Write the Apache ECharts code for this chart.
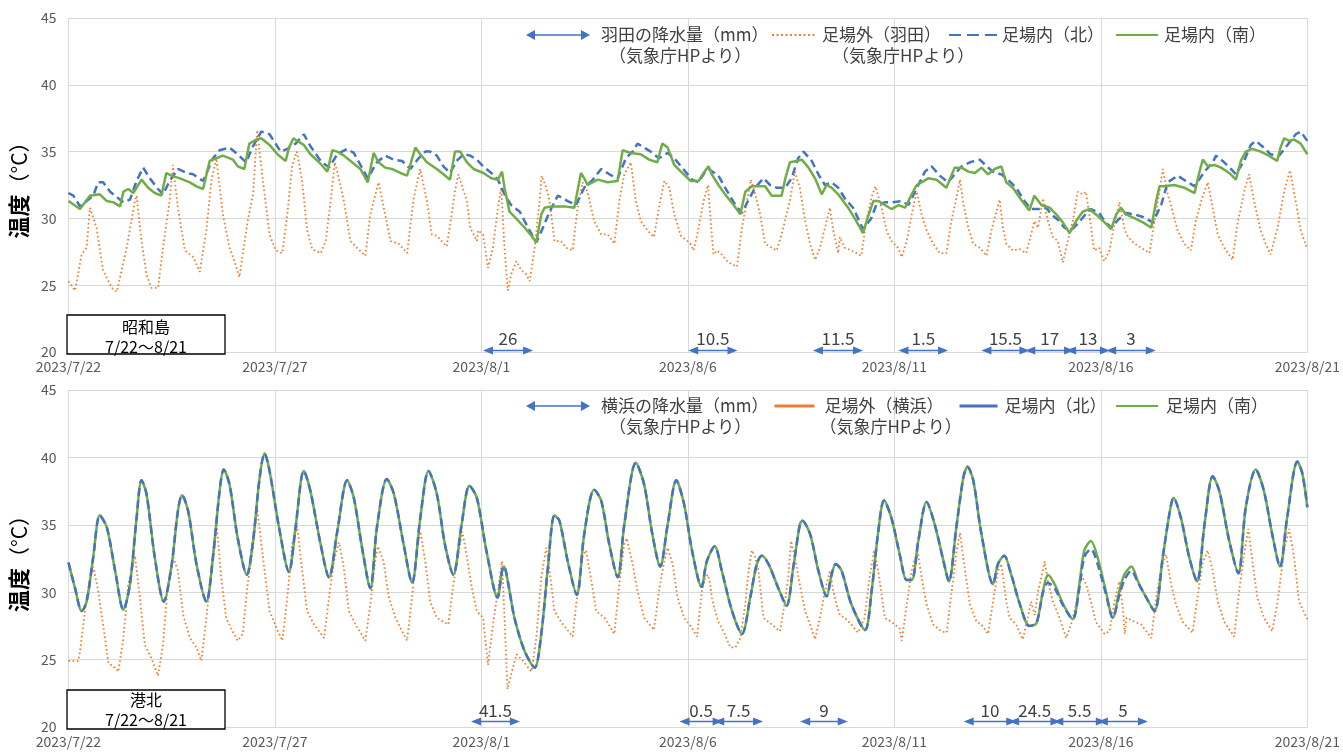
<!DOCTYPE html>
<html>
<head>
<meta charset="utf-8">
<script src="https://cdn.jsdelivr.net/npm/echarts@6/dist/echarts.min.js"></script>
<style>
html, body { margin: 0; padding: 0; background: #fff; }
#main { width: 1343px; height: 753px; }
</style>
</head>
<body>
<div id="main"></div>
<script>
// x = days since 2023/7/22 0:00
var dateLabels = ['2023/7/22', '2023/7/27', '2023/8/1', '2023/8/6', '2023/8/11', '2023/8/16', '2023/8/21'];

// [start day, end day, mm]
var hanedaRain = [[10.16, 11.13, '26'], [15.13, 16.08, '10.5'], [18.15, 19.12, '11.5'], [20.22, 21.18, '1.5'],
  [22.23, 23.15, '15.5'], [23.29, 24.23, '17'], [24.28, 25.1, '13'], [25.25, 26.21, '3']];
var yokohamaRain = [[9.87, 10.81, '41.5'], [14.92, 15.72, '0.5'], [15.76, 16.7, '7.5'], [17.84, 18.75, '9'],
  [21.8, 22.83, '10'], [22.9, 23.9, '24.5'], [23.97, 25.0, '5.5'], [25.05, 26.02, '5']];

// 昭和島 (top)
var hanedaOut = [[0,25.3],[0.16,24.6],[0.32,27.3],[0.44,27.8],[0.52,30.8],[0.56,30.9],[0.68,29.3],[0.84,26.1],[1.05,24.8],[1.17,24.5],[1.41,27.8],[1.61,31.3],[1.65,31.7],[1.77,28.3],[1.89,25.8],[2.01,24.8],[2.17,24.8],[2.29,27.8],[2.45,31.3],[2.53,34.0],[2.65,30.8],[2.82,27.6],[3.02,27.1],[3.18,26.0],[3.34,29.1],[3.46,32.8],[3.58,34.5],[3.74,30.3],[3.9,27.8],[4.02,26.8],[4.14,25.6],[4.34,29.8],[4.47,31.8],[4.57,36.6],[4.71,32.8],[4.87,28.8],[5.02,27.6],[5.18,27.4],[5.3,30.3],[5.42,34.0],[5.53,35.0],[5.66,32.8],[5.78,29.1],[5.9,27.7],[6.11,27.4],[6.23,28.3],[6.35,31.3],[6.45,34.2],[6.51,33.5],[6.67,31.3],[6.83,28.3],[6.99,27.8],[7.19,27.2],[7.31,30.3],[7.51,32.7],[7.67,30.3],[7.8,28.3],[8.0,28.1],[8.2,27.4],[8.36,31.5],[8.52,33.7],[8.68,31.3],[8.8,28.8],[8.92,28.7],[9.16,27.9],[9.28,30.3],[9.36,32.0],[9.44,33.3],[9.65,31.3],[9.73,29.3],[9.89,28.3],[9.92,29.1],[10.04,28.8],[10.16,26.3],[10.28,27.8],[10.4,30.8],[10.48,32.3],[10.56,27.8],[10.64,24.6],[10.72,25.8],[10.85,26.8],[10.97,26.1],[11.09,25.8],[11.17,25.3],[11.29,27.8],[11.41,31.3],[11.46,33.2],[11.57,32.3],[11.65,31.3],[11.77,28.3],[11.93,28.3],[12.05,27.8],[12.21,27.6],[12.33,30.8],[12.45,32.7],[12.57,32.0],[12.73,29.8],[12.9,28.8],[13.06,28.8],[13.22,28.1],[13.34,31.3],[13.46,33.3],[13.62,34.2],[13.74,31.3],[13.86,29.8],[14.02,29.1],[14.18,28.6],[14.3,30.8],[14.43,32.8],[14.55,32.3],[14.67,30.3],[14.83,28.7],[14.99,28.3],[15.06,28.1],[15.14,27.6],[15.26,29.3],[15.38,31.3],[15.49,32.5],[15.54,30.3],[15.62,27.3],[15.7,27.6],[15.82,27.3],[15.98,26.7],[16.19,26.4],[16.31,29.3],[16.43,31.3],[16.53,32.9],[16.63,31.8],[16.75,30.3],[16.87,28.1],[17.03,27.8],[17.15,27.6],[17.27,28.8],[17.39,30.3],[17.47,31.3],[17.59,33.5],[17.71,32.3],[17.84,29.8],[17.96,28.1],[18.08,26.9],[18.2,27.8],[18.32,29.3],[18.44,30.8],[18.52,29.1],[18.64,27.4],[18.68,28.6],[18.8,27.8],[18.96,27.6],[19.08,27.4],[19.2,27.2],[19.32,29.8],[19.44,31.5],[19.54,32.4],[19.69,30.8],[19.81,29.1],[19.93,28.3],[20.09,27.8],[20.18,27.1],[20.3,28.3],[20.42,30.3],[20.54,32.0],[20.66,30.3],[20.78,29.1],[20.94,28.1],[21.1,27.4],[21.26,27.4],[21.38,29.8],[21.5,31.5],[21.59,32.9],[21.66,31.3],[21.79,29.3],[21.91,28.1],[22.07,27.8],[22.23,27.2],[22.35,29.1],[22.47,30.5],[22.55,31.4],[22.63,29.3],[22.71,28.1],[22.87,27.6],[23.03,27.7],[23.19,27.4],[23.31,28.8],[23.39,29.8],[23.48,29.3],[23.6,31.5],[23.72,29.8],[23.84,28.6],[23.96,28.3],[24.08,26.7],[24.2,28.3],[24.32,29.8],[24.44,32.0],[24.56,31.8],[24.64,32.0],[24.72,30.3],[24.84,27.6],[24.96,27.8],[25.08,26.8],[25.21,27.6],[25.33,29.6],[25.45,31.2],[25.58,29.1],[25.66,28.6],[25.82,28.1],[25.98,27.8],[26.18,27.4],[26.3,29.8],[26.42,32.0],[26.5,33.7],[26.62,31.8],[26.74,30.5],[26.86,29.1],[27.02,28.1],[27.18,27.6],[27.3,29.8],[27.43,31.3],[27.59,32.7],[27.71,30.8],[27.83,28.8],[27.99,27.8],[28.19,26.9],[28.31,29.6],[28.47,32.0],[28.59,33.3],[28.71,31.3],[28.87,29.1],[28.99,28.1],[29.11,27.3],[29.28,29.3],[29.44,32.0],[29.58,33.6],[29.72,31.3],[29.84,29.1],[30,27.7]];

var hanedaNorth = [[0,31.9],[0.12,31.7],[0.28,30.9],[0.44,31.3],[0.6,31.7],[0.72,32.7],[0.84,32.7],[1.01,32.0],[1.21,31.5],[1.33,31.2],[1.49,31.4],[1.65,32.8],[1.81,33.8],[1.97,33.0],[2.17,32.2],[2.29,31.8],[2.45,32.8],[2.65,33.7],[2.86,33.4],[3.02,33.3],[3.26,32.8],[3.5,34.5],[3.66,35.1],[3.9,35.3],[4.1,34.8],[4.3,34.2],[4.47,35.4],[4.67,36.5],[4.87,36.3],[5.14,35.0],[5.3,35.2],[5.5,35.6],[5.7,36.3],[5.86,35.4],[6.11,34.3],[6.31,33.8],[6.51,34.8],[6.75,35.2],[6.91,34.9],[7.07,34.0],[7.25,33.0],[7.47,34.2],[7.67,34.7],[7.88,34.4],[8.08,34.3],[8.28,33.7],[8.48,34.5],[8.64,35.0],[8.76,35.0],[8.92,34.7],[9.08,33.9],[9.24,33.4],[9.4,34.3],[9.57,34.8],[9.73,34.7],[9.89,34.4],[10.04,33.9],[10.24,33.4],[10.4,32.9],[10.56,31.8],[10.72,31.0],[10.93,30.5],[11.13,29.3],[11.33,28.2],[11.49,29.3],[11.65,30.5],[11.85,31.7],[12.09,31.3],[12.29,31.0],[12.49,32.3],[12.7,32.9],[12.9,33.7],[13.1,33.3],[13.3,33.0],[13.5,34.5],[13.66,35.0],[13.78,35.6],[13.94,35.3],[14.1,35.0],[14.3,34.5],[14.51,34.9],[14.67,34.5],[14.83,33.9],[14.94,33.5],[15.1,32.9],[15.26,32.7],[15.42,33.5],[15.5,33.7],[15.74,33.2],[15.9,32.3],[16.15,31.0],[16.31,30.4],[16.47,31.4],[16.63,32.3],[16.83,33.0],[16.99,32.5],[17.15,32.3],[17.36,32.3],[17.51,33.0],[17.67,34.5],[17.8,35.0],[18.0,34.3],[18.16,33.3],[18.32,32.5],[18.48,32.7],[18.64,32.3],[18.8,31.5],[19.0,30.8],[19.24,29.2],[19.44,30.0],[19.56,31.0],[19.77,31.2],[19.93,31.2],[20.18,31.3],[20.34,31.0],[20.58,32.5],[20.74,33.5],[20.9,33.9],[21.1,33.2],[21.3,32.7],[21.46,33.3],[21.63,33.9],[21.83,34.2],[22.07,34.4],[22.27,33.8],[22.43,33.4],[22.59,33.3],[22.75,32.9],[22.95,32.3],[23.15,31.3],[23.31,30.7],[23.51,30.7],[23.68,30.8],[23.8,30.3],[23.96,29.9],[24.12,29.3],[24.28,29.1],[24.44,29.6],[24.6,30.2],[24.76,30.7],[24.96,30.4],[25.09,29.8],[25.25,29.3],[25.42,29.9],[25.62,30.4],[25.82,30.3],[26.02,30.1],[26.26,29.7],[26.46,31.0],[26.62,32.7],[26.86,33.2],[27.06,32.8],[27.27,32.4],[27.51,33.5],[27.71,34.2],[27.79,34.7],[27.95,34.3],[28.15,33.7],[28.27,33.3],[28.47,34.3],[28.63,35.5],[28.75,35.8],[28.95,35.3],[29.11,34.8],[29.32,34.7],[29.52,35.5],[29.72,36.3],[29.84,36.5],[30,35.8]];

var hanedaSouth = [[0,31.3],[0.28,30.7],[0.52,31.7],[0.76,31.8],[0.93,31.3],[1.09,31.2],[1.25,30.9],[1.33,32.0],[1.45,32.2],[1.57,31.9],[1.77,32.9],[1.93,32.3],[2.09,31.9],[2.25,31.7],[2.37,33.4],[2.49,33.2],[2.7,33.0],[2.94,32.7],[3.1,32.4],[3.26,32.2],[3.42,34.3],[3.58,34.5],[3.74,34.7],[3.98,34.4],[4.1,33.9],[4.26,33.7],[4.38,35.6],[4.55,35.9],[4.67,36.0],[4.87,35.5],[5.06,34.8],[5.26,34.3],[5.34,35.3],[5.45,36.0],[5.54,35.8],[5.7,35.5],[5.86,34.8],[6.07,34.2],[6.27,33.5],[6.39,35.1],[6.51,35.0],[6.67,34.7],[6.87,34.2],[7.07,33.7],[7.25,32.7],[7.39,34.9],[7.51,34.2],[7.67,33.8],[7.83,33.7],[8.04,33.4],[8.2,33.2],[8.4,35.3],[8.52,34.8],[8.68,34.2],[8.92,33.7],[9.08,33.3],[9.24,32.9],[9.36,35.0],[9.49,35.0],[9.65,34.2],[9.81,33.7],[10.05,33.4],[10.24,33.0],[10.4,32.9],[10.5,33.5],[10.56,32.3],[10.68,30.5],[10.84,30.0],[11.05,29.3],[11.21,28.7],[11.33,28.2],[11.45,30.3],[11.53,30.8],[11.69,30.9],[12.01,30.9],[12.25,30.8],[12.41,33.4],[12.49,33.0],[12.57,32.5],[12.82,32.9],[13.06,32.7],[13.3,32.8],[13.42,35.1],[13.62,34.9],[13.86,34.8],[14.06,34.4],[14.26,34.2],[14.38,35.6],[14.51,35.3],[14.67,34.0],[14.83,33.5],[15.07,32.8],[15.26,32.8],[15.38,33.4],[15.5,33.9],[15.58,33.3],[15.74,32.5],[15.9,31.8],[16.11,31.0],[16.27,30.3],[16.39,32.0],[16.55,32.4],[16.87,32.4],[17.03,31.7],[17.27,31.7],[17.36,33.0],[17.47,34.2],[17.64,34.3],[17.76,34.4],[17.92,33.8],[18.08,33.0],[18.24,31.8],[18.36,32.5],[18.48,32.3],[18.64,31.8],[18.88,30.8],[19.04,30.0],[19.24,28.9],[19.37,30.2],[19.49,31.3],[19.61,31.3],[19.77,31.0],[19.93,30.7],[20.1,31.0],[20.26,30.8],[20.42,31.8],[20.54,32.5],[20.66,32.7],[20.82,33.0],[21.02,32.9],[21.26,32.3],[21.46,33.8],[21.63,33.8],[21.79,33.5],[21.95,33.4],[22.11,33.8],[22.27,33.3],[22.43,33.7],[22.59,33.9],[22.71,32.7],[22.87,32.3],[23.07,31.4],[23.27,30.6],[23.39,31.7],[23.56,31.0],[23.76,30.8],[23.92,30.3],[24.08,29.7],[24.24,28.9],[24.4,29.8],[24.56,30.5],[24.72,30.7],[24.92,30.2],[25.09,29.7],[25.25,29.2],[25.37,30.3],[25.49,30.8],[25.61,30.3],[25.82,30.0],[26.02,29.7],[26.22,29.3],[26.34,31.3],[26.42,32.4],[26.54,32.4],[26.78,32.5],[27.02,32.3],[27.27,31.9],[27.39,33.5],[27.47,34.4],[27.59,33.9],[27.75,34.0],[27.91,33.8],[28.11,33.4],[28.27,32.9],[28.39,34.3],[28.51,35.0],[28.67,35.2],[28.87,35.0],[29.07,34.7],[29.27,34.3],[29.35,35.3],[29.44,36.0],[29.56,35.8],[29.68,35.9],[29.84,35.6],[30,34.8]];

// 港北 (bottom)
var yokohamaOut = [[0,24.9],[0.24,24.9],[0.28,25.6],[0.4,28.6],[0.52,31.1],[0.6,31.9],[0.72,30.1],[0.84,27.6],[0.97,24.7],[1.09,24.5],[1.21,24.1],[1.33,26.6],[1.45,30.6],[1.61,32.7],[1.73,29.6],[1.85,26.1],[2.01,25.1],[2.17,23.8],[2.29,26.1],[2.41,30.6],[2.53,32.7],[2.65,31.6],[2.78,28.3],[2.94,26.6],[3.1,25.9],[3.22,24.9],[3.34,28.1],[3.46,31.8],[3.58,35.4],[3.7,31.1],[3.82,28.1],[3.94,27.3],[4.1,26.4],[4.22,26.9],[4.34,30.6],[4.47,33.3],[4.57,36.2],[4.71,32.6],[4.87,28.6],[5.06,27.2],[5.18,26.4],[5.3,29.6],[5.42,33.6],[5.54,34.9],[5.66,31.6],[5.78,28.6],[5.95,27.6],[6.19,26.6],[6.31,29.6],[6.43,32.3],[6.55,33.7],[6.67,31.8],[6.79,28.6],[6.95,27.6],[7.19,26.4],[7.31,29.1],[7.43,32.3],[7.49,33.4],[7.63,32.3],[7.76,29.6],[7.92,28.1],[8.08,27.1],[8.2,26.4],[8.32,29.6],[8.44,33.3],[8.52,34.5],[8.64,32.3],[8.76,29.3],[8.92,28.1],[9.2,27.6],[9.32,30.6],[9.44,32.8],[9.54,34.5],[9.65,32.6],[9.77,30.3],[9.89,28.6],[10.04,28.1],[10.16,24.6],[10.28,27.6],[10.4,30.1],[10.5,32.3],[10.56,28.1],[10.63,22.8],[10.72,23.9],[10.85,25.4],[11.01,24.9],[11.21,24.1],[11.33,26.6],[11.45,31.1],[11.57,33.3],[11.65,31.6],[11.77,28.6],[11.93,27.8],[12.21,26.7],[12.33,30.1],[12.45,32.6],[12.53,33.1],[12.65,31.1],[12.78,28.6],[12.98,28.1],[13.22,26.9],[13.34,30.6],[13.46,33.6],[13.52,34.0],[13.66,32.1],[13.78,30.1],[13.94,28.1],[14.18,27.2],[14.3,30.1],[14.43,32.3],[14.51,33.3],[14.63,32.1],[14.75,29.6],[14.91,28.1],[15.11,27.3],[15.22,26.7],[15.34,30.1],[15.42,31.1],[15.49,31.3],[15.54,30.6],[15.58,29.6],[15.66,28.6],[15.74,27.8],[15.86,27.1],[16.03,25.9],[16.15,25.9],[16.27,26.6],[16.39,29.1],[16.47,31.6],[16.55,33.1],[16.63,32.6],[16.71,31.6],[16.83,28.1],[16.95,27.8],[17.07,27.5],[17.23,27.1],[17.35,29.3],[17.43,31.1],[17.5,33.8],[17.59,32.6],[17.71,30.6],[17.84,28.6],[17.96,27.6],[18.08,26.5],[18.2,28.1],[18.32,30.1],[18.44,31.6],[18.52,30.1],[18.6,29.1],[18.68,28.3],[18.8,28.1],[18.96,27.6],[19.12,27.0],[19.28,28.1],[19.4,31.1],[19.51,33.1],[19.61,31.6],[19.77,28.1],[19.93,27.8],[20.13,27.3],[20.18,26.4],[20.3,29.1],[20.42,31.6],[20.56,33.1],[20.66,31.1],[20.78,29.1],[20.94,27.6],[21.14,27.1],[21.27,27.0],[21.39,30.1],[21.51,33.1],[21.59,34.4],[21.71,31.6],[21.83,29.1],[21.99,27.8],[22.11,27.6],[22.27,26.9],[22.39,29.3],[22.51,31.6],[22.59,32.1],[22.71,29.3],[22.79,28.1],[22.95,27.6],[23.11,26.5],[23.23,28.1],[23.31,29.3],[23.4,28.3],[23.48,30.1],[23.56,31.1],[23.64,32.3],[23.72,30.8],[23.84,29.3],[24.0,28.1],[24.16,26.6],[24.28,27.6],[24.4,29.1],[24.52,31.3],[24.64,30.6],[24.76,29.3],[24.88,27.8],[25.09,26.9],[25.21,27.1],[25.33,29.3],[25.45,30.8],[25.54,28.6],[25.58,26.9],[25.62,28.1],[25.82,27.8],[25.98,27.6],[26.22,26.6],[26.34,29.6],[26.46,31.8],[26.58,32.8],[26.7,30.6],[26.82,29.1],[26.98,27.8],[27.22,27.0],[27.34,29.6],[27.46,32.1],[27.59,33.1],[27.71,31.6],[27.83,29.3],[27.99,27.8],[28.23,26.7],[28.35,30.1],[28.47,32.8],[28.57,34.7],[28.67,32.3],[28.79,29.6],[28.95,28.1],[29.15,27.1],[29.28,29.3],[29.44,33.1],[29.56,34.7],[29.68,32.6],[29.8,29.3],[30,28.0]];

var kohokuSouth = [[0,32.2],[0.16,30.3],[0.32,28.6],[0.44,29.3],[0.6,32.6],[0.76,35.7],[0.93,34.8],[1.13,31.6],[1.33,28.7],[1.49,30.6],[1.65,35.5],[1.77,38.3],[1.89,37.3],[2.09,32.6],[2.31,29.3],[2.49,31.8],[2.65,36.0],[2.75,37.2],[2.9,36.0],[3.1,32.1],[3.34,29.3],[3.5,32.6],[3.66,37.5],[3.76,39.1],[3.9,38.0],[4.1,34.0],[4.32,31.3],[4.47,33.8],[4.63,38.5],[4.75,40.3],[4.87,39.0],[5.1,34.8],[5.34,31.5],[5.5,34.8],[5.7,39.0],[5.86,37.5],[6.11,33.5],[6.31,31.1],[6.51,34.5],[6.75,38.3],[6.91,37.0],[7.11,33.3],[7.31,30.3],[7.47,34.8],[7.71,38.4],[7.88,37.3],[8.12,33.5],[8.32,30.7],[8.52,35.5],[8.72,39.0],[8.92,37.3],[9.12,33.5],[9.32,31.3],[9.52,35.0],[9.71,37.9],[9.89,37.0],[10.12,33.1],[10.39,29.6],[10.5,31.6],[10.55,31.9],[10.64,30.8],[10.8,28.1],[11.05,25.6],[11.29,24.4],[11.45,26.9],[11.61,31.8],[11.77,35.7],[11.89,35.3],[12.09,32.3],[12.31,29.8],[12.49,34.3],[12.73,37.6],[12.9,36.8],[13.1,33.5],[13.3,31.1],[13.46,35.0],[13.74,39.6],[13.94,38.0],[14.14,34.3],[14.33,31.9],[14.51,35.0],[14.72,38.3],[14.91,36.5],[15.1,33.1],[15.33,30.4],[15.46,32.3],[15.65,33.4],[15.82,31.6],[16.07,28.6],[16.31,26.9],[16.51,29.6],[16.67,32.1],[16.79,32.7],[16.95,32.1],[17.19,30.3],[17.39,29.0],[17.55,31.8],[17.71,35.0],[17.77,35.3],[17.96,34.3],[18.16,31.6],[18.36,29.7],[18.48,31.3],[18.58,32.1],[18.72,31.6],[18.96,29.1],[19.29,27.2],[19.45,30.1],[19.61,34.5],[19.75,36.8],[19.93,35.5],[20.13,32.8],[20.3,30.9],[20.42,30.9],[20.58,33.8],[20.78,36.7],[20.98,35.0],[21.19,32.3],[21.32,30.8],[21.5,34.8],[21.67,38.5],[21.77,39.3],[21.91,38.3],[22.11,34.3],[22.39,30.6],[22.51,32.1],[22.66,32.7],[22.83,31.3],[23.04,29.1],[23.27,27.5],[23.44,27.7],[23.6,30.1],[23.72,31.3],[23.88,30.6],[24.09,29.1],[24.32,28.0],[24.48,30.6],[24.6,33.1],[24.76,33.8],[24.92,32.6],[25.12,30.1],[25.29,28.1],[25.45,30.1],[25.57,31.3],[25.74,31.9],[25.9,30.8],[26.1,29.6],[26.3,28.6],[26.5,32.6],[26.66,35.8],[26.76,37.0],[26.94,35.5],[27.14,32.6],[27.33,30.8],[27.51,35.0],[27.71,38.6],[27.87,37.5],[28.11,33.8],[28.33,31.4],[28.51,36.3],[28.75,39.1],[28.95,37.5],[29.15,34.3],[29.34,31.9],[29.51,35.5],[29.76,39.7],[29.88,38.8],[30,36.3]];

var kohokuNorth = [[0,32.2],[0.16,30.3],[0.32,28.6],[0.44,29.3],[0.6,32.6],[0.76,35.7],[0.93,34.8],[1.13,31.6],[1.33,28.7],[1.49,30.6],[1.65,35.5],[1.77,38.3],[1.89,37.3],[2.09,32.6],[2.31,29.3],[2.49,31.8],[2.65,36.0],[2.75,37.2],[2.9,36.0],[3.1,32.1],[3.34,29.3],[3.5,32.6],[3.66,37.5],[3.76,39.1],[3.9,38.0],[4.1,34.0],[4.32,31.3],[4.47,33.8],[4.63,38.5],[4.75,40.3],[4.87,39.0],[5.1,34.8],[5.34,31.5],[5.5,34.8],[5.7,39.0],[5.86,37.5],[6.11,33.5],[6.31,31.1],[6.51,34.5],[6.75,38.3],[6.91,37.0],[7.11,33.3],[7.31,30.3],[7.47,34.8],[7.71,38.4],[7.88,37.3],[8.12,33.5],[8.32,30.7],[8.52,35.5],[8.72,39.0],[8.92,37.3],[9.12,33.5],[9.32,31.3],[9.52,35.0],[9.71,37.9],[9.89,37.0],[10.12,33.1],[10.39,29.6],[10.5,31.6],[10.55,31.9],[10.64,30.8],[10.8,28.1],[11.05,25.6],[11.29,24.4],[11.45,26.9],[11.61,31.8],[11.77,35.7],[11.89,35.3],[12.09,32.3],[12.31,29.8],[12.49,34.3],[12.73,37.6],[12.9,36.8],[13.1,33.5],[13.3,31.1],[13.46,35.0],[13.74,39.6],[13.94,38.0],[14.14,34.3],[14.33,31.9],[14.51,35.0],[14.72,38.3],[14.91,36.5],[15.1,33.1],[15.33,30.4],[15.46,32.3],[15.65,33.4],[15.82,31.6],[16.07,28.6],[16.31,26.9],[16.51,29.6],[16.67,32.1],[16.79,32.7],[16.95,32.1],[17.19,30.3],[17.39,29.0],[17.55,31.8],[17.71,35.0],[17.77,35.3],[17.96,34.3],[18.16,31.6],[18.36,29.7],[18.48,31.3],[18.58,32.1],[18.72,31.6],[18.96,29.1],[19.29,27.2],[19.45,30.1],[19.61,34.5],[19.75,36.8],[19.93,35.5],[20.13,32.8],[20.3,30.9],[20.42,30.9],[20.58,33.8],[20.78,36.7],[20.98,35.0],[21.19,32.3],[21.32,30.8],[21.5,34.8],[21.67,38.5],[21.77,39.3],[21.91,38.3],[22.11,34.3],[22.39,30.6],[22.51,32.1],[22.66,32.7],[22.83,31.3],[23.04,29.1],[23.27,27.5],[23.44,27.7],[23.6,30.0],[23.72,30.7],[23.88,30.3],[24.09,29.0],[24.32,28.0],[24.48,30.3],[24.6,32.6],[24.76,33.2],[24.92,32.1],[25.12,29.9],[25.29,28.1],[25.45,29.8],[25.57,30.9],[25.74,31.6],[25.9,30.7],[26.1,29.6],[26.3,28.6],[26.5,32.6],[26.66,35.8],[26.76,37.0],[26.94,35.5],[27.14,32.6],[27.33,30.8],[27.51,35.0],[27.71,38.6],[27.87,37.5],[28.11,33.8],[28.33,31.4],[28.51,36.3],[28.75,39.1],[28.95,37.5],[29.15,34.3],[29.34,31.9],[29.51,35.5],[29.76,39.7],[29.88,38.8],[30,36.3]];

var FONT = '"Noto Sans CJK JP", "Noto Sans", sans-serif';
var ORANGE = '#ED7D31', BLUE = '#4472C4', GREEN = '#70AD47';
var GRIDC = '#D9D9D9';

var chart = echarts.init(document.getElementById('main'));

function xAxis(gi) {
  return {
    type: 'value', gridIndex: gi, min: 0, max: 30, interval: 5,
    axisLine: { lineStyle: { color: GRIDC } },
    axisTick: { show: false },
    axisLabel: {
      color: '#595959', fontSize: 14, fontFamily: FONT, margin: 8,
      formatter: function (v) { return dateLabels[Math.round(v / 5)]; }
    },
    splitLine: { lineStyle: { color: GRIDC } }
  };
}
function yAxis(gi) {
  return {
    type: 'value', gridIndex: gi, min: 20, max: 45, interval: 5,
    axisLine: { show: false }, axisTick: { show: false },
    axisLabel: { color: '#595959', fontSize: 14, fontFamily: FONT, margin: 12 },
    splitLine: { lineStyle: { color: GRIDC } },
    name: '{a|温度}{b|（°C）}', nameLocation: 'middle', nameRotate: 90, nameGap: 35,
    nameTextStyle: {
      rich: {
        a: { fontFamily: FONT, fontSize: 22, fontWeight: 'bold', color: '#000' },
        b: { fontFamily: FONT, fontSize: 21, color: '#000' }
      }
    }
  };
}
function line(name, data, gi, color, type, width, z, smooth) {
  return {
    name: name, type: 'line', xAxisIndex: gi, yAxisIndex: gi, data: data,
    symbol: 'none', smooth: smooth || false, z: z, silent: true,
    itemStyle: { color: color },
    lineStyle: { color: color, width: width, type: type }
  };
}
function rain(name, list, gi, y) {
  return {
    name: name, type: 'line', xAxisIndex: gi, yAxisIndex: gi, data: [],
    symbol: 'none', itemStyle: { color: BLUE }, lineStyle: { color: BLUE },
    markLine: {
      silent: true, animation: false,
      symbol: ['triangle', 'triangle'], symbolSize: [8, 10],
      lineStyle: { color: BLUE, width: 1.3, type: 'solid' },
      label: { show: true, position: 'middle', distance: 3, formatter: '{b}',
        fontFamily: FONT, fontSize: 17, color: '#404040' },
      emphasis: { disabled: true },
      data: list.map(function (r) {
        return [{ name: r[2], coord: [r[0], y] }, { coord: [r[1], y] }];
      })
    }
  };
}
function ts(p) {
  return { fontFamily: FONT, fontSize: 17, color: '#404040', lineHeight: 21, padding: [0, 0, 0, p] };
}
function legend(name, left, y, w, sub, p1, p2, extra) {
  var txt = sub ? '{e| }\n{a|' + name + '}\n{b|' + sub + '}' : '{a|' + name + '}';
  return {
    left: left, top: y - (sub ? 31.5 : 10.5), padding: 0,
    itemWidth: w, itemHeight: 10, selectedMode: false,
    data: [Object.assign({ name: name }, extra || {})],
    formatter: function () { return txt; },
    textStyle: { rich: { e: ts(0), a: ts(p1 || 0), b: ts(p2 || 0) } }
  };
}

var arrowIcon = 'path://M0,5L9,0L9,4.2L55,4.2L55,0L64,5L55,10L55,5.8L9,5.8L9,10Z';
var hidden = { itemStyle: { opacity: 0 } };
var sub = '（気象庁HPより）';

var option = {
  animation: false,
  grid: [
    { left: 67, right: 33, top: 18, height: 334 },
    { left: 67, right: 33, top: 390, height: 337 }
  ],
  xAxis: [xAxis(0), xAxis(1)],
  yAxis: [yAxis(0), yAxis(1)],
  legend: [
    legend('羽田の降水量（mm）', 526, 37, 64, sub, 6, 14, { icon: arrowIcon }),
    legend('足場外（羽田）', 771, 37, 45, sub, 0, 10, { itemStyle: { opacity: 0 }, lineStyle: { type: [2, 2.5], width: 2 } }),
    legend('足場内（北）', 948, 37, 48, null, 0, 0, { itemStyle: { opacity: 0 }, lineStyle: { type: [12, 6] } }),
    legend('足場内（南）', 1115, 37, 42, null, 1, 0, hidden),
    legend('横浜の降水量（mm）', 526, 408, 64, sub, 6, 14, { icon: arrowIcon }),
    legend('足場外（横浜）', 773, 408, 40, sub, 5, 0, { itemStyle: { opacity: 0 }, lineStyle: { type: 'solid', width: 3 } }),
    legend('足場内（北）', 958, 408, 38, null, 2, 0, { itemStyle: { opacity: 0 }, lineStyle: { type: 'solid', width: 3 } }),
    legend('足場内（南）', 1115, 408, 42, null, 3, 0, hidden)
  ],
  series: [
    rain('羽田の降水量（mm）', hanedaRain, 0, 20.12),
    line('足場外（羽田）', hanedaOut, 0, ORANGE, [1.6, 2.6], 1.8, 2),
    line('足場内（北）', hanedaNorth, 0, BLUE, [8, 4.5], 2.5, 3),
    line('足場内（南）', hanedaSouth, 0, GREEN, 'solid', 2.5, 4),
    rain('横浜の降水量（mm）', yokohamaRain, 1, 20.4),
    line('足場外（横浜）', yokohamaOut, 1, ORANGE, [1.6, 2.6], 1.8, 2),
    line('足場内（北）', kohokuNorth, 1, BLUE, [8, 4.5], 2.5, 4, 0.3),
    line('足場内（南）', kohokuSouth, 1, GREEN, 'solid', 2.5, 3, 0.3)
  ],
  graphic: [
    { type: 'rect', z: 100, shape: { x: 67, y: 315, width: 158, height: 39 },
      style: { fill: '#fff', stroke: '#000', lineWidth: 1.3 } },
    { type: 'text', z: 101, x: 146, y: 336.5,
      style: { text: '昭和島\n7/22～8/21', fill: '#000', font: '16px ' + FONT,
        align: 'center', verticalAlign: 'middle', lineHeight: 20 } },
    { type: 'rect', z: 100, shape: { x: 67, y: 690, width: 158, height: 39 },
      style: { fill: '#fff', stroke: '#000', lineWidth: 1.3 } },
    { type: 'text', z: 101, x: 146, y: 710,
      style: { text: '港北\n7/22～8/21', fill: '#000', font: '16px ' + FONT,
        align: 'center', verticalAlign: 'middle', lineHeight: 20 } }
  ]
};
chart.setOption(option);
</script>
</body>
</html>
